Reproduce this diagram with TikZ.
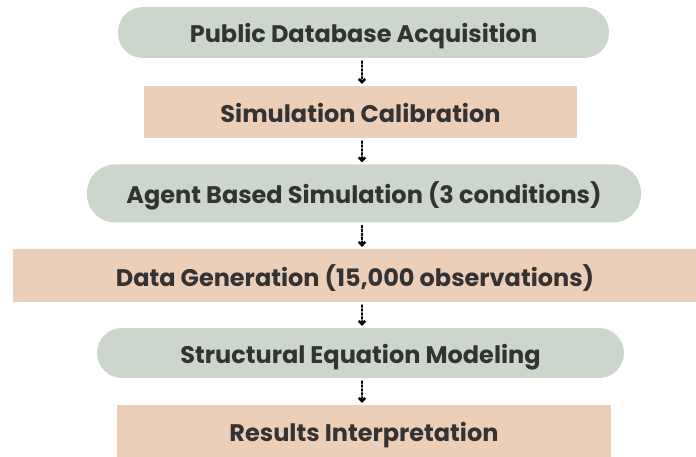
\documentclass[tikz,border=0pt]{standalone}
\usepackage{fontspec}
\setmainfont{Poppins}
\usetikzlibrary{arrows.meta}
\definecolor{sage}{HTML}{CCD6CC}
\definecolor{peach}{HTML}{ECCFB8}
\definecolor{txt}{HTML}{333333}
\tikzset{
  lbl/.style={text=txt, font=\fontsize{24}{28}\selectfont\bfseries, inner sep=0pt, text height=21pt, text depth=0pt},
  pill/.style={lbl, fill=sage, rounded corners=25pt},
  rectbox/.style={lbl, fill=peach},
  flow/.style={dotted, line width=1.9pt, line cap=round, -{Straight Barb[angle=90:4.5pt, line width=2.4pt]}, black}
}
\begin{document}
\begin{tikzpicture}[x=1pt,y=-1pt]
\useasboundingbox (0,0) rectangle (696,457);
\node[pill, minimum width=491pt, minimum height=51pt] (n1) at (363.5,32.5) {Public Database Acquisition};
\node[rectbox, minimum width=433pt, minimum height=52pt] (n2) at (360.5,112) {Simulation Calibration};
\node[pill, rounded corners=28pt, minimum width=554pt, minimum height=58pt] (n3) at (364,193.5) {Agent Based Simulation (3 conditions)};
\node[rectbox, minimum width=684pt, minimum height=53pt] (n4) at (355,275.5) {Data Generation (15,000 observations)};
\node[pill, minimum width=527pt, minimum height=50pt] (n5) at (360.5,353) {Structural Equation Modeling};
\node[rectbox, minimum width=494pt, minimum height=52pt] (n6) at (364,431) {Results Interpretation};
\coordinate (a1) at (362,0);
\draw[flow] ([yshift=-3pt]n1.south -| a1) -- ([yshift=2pt]n2.north -| a1);
\draw[flow] ([yshift=-3pt]n2.south -| a1) -- ([yshift=2pt]n3.north -| a1);
\draw[flow] ([yshift=-3pt]n3.south -| a1) -- ([yshift=2pt]n4.north -| a1);
\draw[flow] ([yshift=-3pt]n4.south -| a1) -- ([yshift=2pt]n5.north -| a1);
\draw[flow] ([yshift=-3pt]n5.south -| a1) -- ([yshift=2pt]n6.north -| a1);
\end{tikzpicture}
\end{document}
